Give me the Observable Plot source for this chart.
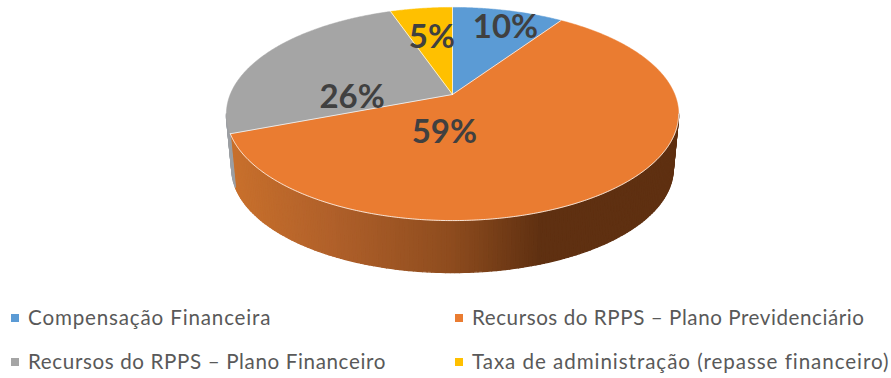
<!DOCTYPE html>
<html lang="pt">
<head>
<meta charset="utf-8">
<script src="https://cdn.jsdelivr.net/npm/d3@7"></script>
<script src="https://cdn.jsdelivr.net/npm/@observablehq/plot@0.6"></script>
<style>
html,body{margin:0;padding:0;background:#fff;width:891px;height:378px;overflow:hidden}
#chart svg{display:block}
#legend{position:absolute;left:0;top:295px;width:891px;height:83px;font:20.6px Lato,sans-serif;color:#595959}
.item{position:absolute;white-space:nowrap;display:flex;align-items:center;height:26px;transform:translateY(-13px)}
.key{position:absolute;width:8px;height:8px;left:-17px;top:10px}
</style>
</head>
<body>
<div id="chart"></div>
<div id="legend"></div>
<script>
// Data
const categories = ["Compensação Financeira","Recursos do RPPS – Plano Previdenciário","Recursos do RPPS – Plano Financeiro","Taxa de administração (repasse financeiro)"];
const shares = [9.5, 59.7, 25.5, 5.3];
const percentLabels = ["10%","59%","26%","5%"];
const colors = ["#5b9bd5","#ea7c31","#a5a5a5","#ffc000"];

// Label placement on the disc (fraction of radius, degrees turned from slice middle)
const labelRadii = [0.786, 0.347, 0.45, 0.624];
const labelTurn = [3, 44, -29, 0];

// Perspective view of the disc
const view = {apexX:452, apexY:94, A:222.3, B:103, p:0.183};
const depth = {dy:55, f:0.976};
const W = 891, H = 295;

const rad = d => d * Math.PI / 180;
function project(deg, r = 1, lower = false) {
  const u = r * Math.sin(rad(deg)), v = r * Math.cos(rad(deg));
  const w = 1 + view.p * v;
  const f = lower ? depth.f : 1;
  return {x: view.apexX + f * view.A * u / w, y: view.apexY + (lower ? depth.dy : 0) - f * view.B * v / w};
}

// Slice angles
let acc = 0;
const total = d3.sum(shares);
const slices = shares.map((s, i) => {
  const a0 = acc / total * 360; acc += s; const a1 = acc / total * 360;
  return {i, a0, a1, mid: (a0 + a1) / 2};
});

// Top faces
const topRows = slices.flatMap(s => {
  const pts = [{...project(0, 0)}];
  for (const a of d3.range(s.a0, s.a1, 0.5)) pts.push(project(a));
  pts.push(project(s.a1), project(0, 0));
  return pts.map(p => ({...p, id: s.i, color: colors[s.i]}));
});

// Side wall
const leftEdge = 259.5, rightEdge = 100.5, step = 1;
const orangeEnd = slices[1].a1;
const shade = d3.scaleLinear().domain([230, 330, 450, 540, 680])
  .range(["#c8702c", "#b0602a", "#8e4c1e", "#5f3011", "#5f3011"]);
const sideRows = [];
for (const a of d3.range(rightEdge, leftEdge, step)) {
  const b = Math.min(a + step, leftEdge);
  const isGray = a >= orangeEnd;
  const t0 = project(a), t1 = project(b), l1 = project(b, 1, true), l0 = project(a, 1, true);
  const col = isGray ? "#9c9fa3" : shade((t0.x + t1.x) / 2);
  for (const p of [t0, t1, l1, l0, t0]) sideRows.push({...p, id: a, color: col});
}

// Rims and divider lines
const rimRows = d3.range(rightEdge, orangeEnd + 0.5, 0.5).map(a => project(Math.min(a, orangeEnd)));
const dividerRows = slices.flatMap(s => [project(s.a0), project(0, 0)].map(p => ({...p, id: s.i})));

// Value labels
const labelRows = slices.map((s, i) => ({
  ...project(s.mid + labelTurn[i], labelRadii[i]),
  text: percentLabels[i]
}));

const plot = Plot.plot({
  width: W, height: H,
  margin: 0,
  x: {domain: [0, W], range: [0, W], axis: null},
  y: {domain: [0, H], range: [0, H], axis: null},
  marks: [
    Plot.line(sideRows, {x: "x", y: "y", z: "id", fill: "color", stroke: "color", strokeWidth: 1.4, curve: "linear"}),
    Plot.line(topRows, {x: "x", y: "y", z: "id", fill: "color", stroke: "color", strokeWidth: 0.5, curve: "linear"}),
    Plot.line(dividerRows, {x: "x", y: "y", z: "id", stroke: "#fff", strokeWidth: 1, strokeOpacity: 0.75}),
    Plot.line(rimRows, {x: "x", y: "y", stroke: "#fff", strokeWidth: 1, strokeOpacity: 0.8}),
    Plot.text(labelRows, {x: "x", y: "y", text: "text", fontSize: 33, fontWeight: 700, fontFamily: "Lato, sans-serif", fill: "#404040", lineAnchor: "middle", textAnchor: "middle"})
  ]
});
document.getElementById("chart").append(plot);

// Legend rows laid out below the SVG
const legend = document.getElementById("legend");
const legendColumns = [28, 472], legendRows = [22, 66], legendSpacing = [0.83, 0.56, 0.62, 0.94];
categories.forEach((name, i) => {
  const item = document.createElement("div");
  item.className = "item";
  item.style.left = legendColumns[i % 2] + "px";
  item.style.top = legendRows[Math.floor(i / 2)] + "px";
  item.style.letterSpacing = legendSpacing[i] + "px";
  const key = document.createElement("span");
  key.className = "key";
  key.style.background = colors[i];
  item.append(key, document.createTextNode(name));
  legend.append(item);
});
</script>
</body>
</html>
